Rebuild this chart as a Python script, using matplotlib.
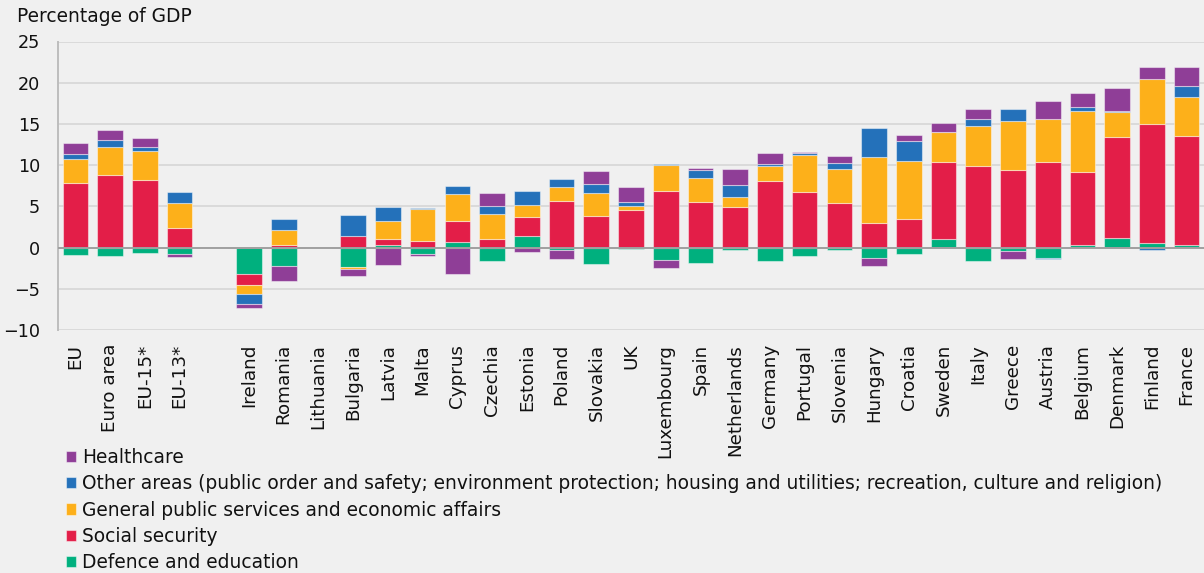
import numpy as np
import matplotlib
matplotlib.use("Agg")
import matplotlib.pyplot as plt

# categories (empty string = gap between aggregates and countries)
countries = ["EU", "Euro area", "EU-15*", "EU-13*", "",
             "Ireland", "Romania", "Lithuania", "Bulgaria", "Latvia", "Malta",
             "Cyprus", "Czechia", "Estonia", "Poland", "Slovakia", "UK",
             "Luxembourg", "Spain", "Netherlands", "Germany", "Portugal",
             "Slovenia", "Hungary", "Croatia", "Sweden", "Italy", "Greece",
             "Austria", "Belgium", "Denmark", "Finland", "France"]

# percentage of GDP
defence = [-0.85, -1.0, -0.6, -0.75, 0,
           -3.25, -2.25, 0, -2.3, 0.28, -0.8,
           0.73, -1.67, 1.46, -0.25, -2.03, -0.12,
           -1.5, -1.83, -0.29, -1.67, -1.06,
           -0.33, -1.22, -0.81, 1.01, -1.67, -0.45,
           -1.3, 0.36, 1.17, 0.55, 0.36]
social = [7.85, 8.75, 8.2, 2.35, 0,
          -1.35, 0.3, 0, 1.45, 0.77, 0.77,
          2.55, 1.05, 2.26, 5.63, 3.84, 4.57,
          6.85, 5.54, 4.94, 8.06, 6.76,
          5.42, 3.04, 3.48, 9.4, 9.92, 9.44,
          10.41, 8.83, 12.24, 14.4, 13.21]
general = [2.9, 3.45, 3.5, 3.0, 0,
           -1.05, 1.8, 0, -0.35, 2.23, 3.9,
           3.2, 3.05, 1.46, 1.7, 2.76, 0.53,
           3.12, 2.92, 1.18, 1.86, 4.43,
           4.06, 7.94, 7.01, 3.57, 4.79, 5.96,
           5.19, 7.34, 3.0, 5.5, 4.67]
other = [0.65, 0.8, 0.45, 1.35, 0,
         -1.15, 1.35, 0, 2.5, 1.62, 0.12,
         1.0, 0.9, 1.67, 0.97, 1.06, 0.37,
         0.2, 0.94, 1.46, 0.2, 0.28,
         0.73, 3.52, 2.4, 0.05, 0.93, 1.42,
         -0.1, 0.57, 0.1, -0.3, 1.41]
health = [1.25, 1.3, 1.1, -0.45, 0,
          -0.55, -1.8, 0, -0.8, -2.15, -0.2,
          -3.25, 1.6, -0.5, -1.17, 1.62, 1.83,
          -1.0, 0.2, 1.9, 1.37, 0.15,
          0.93, -1.02, 0.73, 1.13, 1.18, -0.89,
          2.19, 1.62, 2.82, 1.42, 2.27]

series = [
    ("Defence and education", defence, "#00B07E"),
    ("Social security", social, "#E31E48"),
    ("General public services and economic affairs", general, "#FDB01A"),
    ("Other areas (public order and safety; environment protection; housing and utilities; recreation, culture and religion)", other, "#2471BA"),
    ("Healthcare", health, "#8F3E97"),
]

bg = "#F0F0F0"
plt.rcParams["font.family"] = ["DejaVu Sans"]

fig = plt.figure(figsize=(12.04, 5.73), dpi=100, facecolor=bg)
ax = fig.add_axes([58 / 1204, 1 - 330 / 573, 1 - 58 / 1204, (330 - 41.5) / 573])
ax.set_facecolor(bg)

x = np.arange(len(countries))
pos_bottom = np.zeros(len(countries))
neg_bottom = np.zeros(len(countries))
handles = {}
for name, vals, col in series:
    v = np.array(vals, dtype=float)
    bottom = np.where(v >= 0, pos_bottom, neg_bottom)
    b = ax.bar(x, v, 0.74, bottom=bottom, color=col,
               edgecolor=(1, 1, 1, 0.45), linewidth=0.8, zorder=3)
    handles[name] = b
    pos_bottom += np.where(v >= 0, v, 0)
    neg_bottom += np.where(v < 0, v, 0)

ax.set_xlim(-0.5, len(countries) - 0.5)
ax.set_ylim(-10, 25)
ax.set_yticks(range(-10, 26, 5))
ax.yaxis.grid(True, color="#DADADA", linewidth=1.4, zorder=0)
ax.axhline(0, color="#A0A0A0", linewidth=1.4, zorder=4)
ax.set_xticks(x)
ax.set_xticklabels(countries, rotation=90, va="top", ha="center")
ax.tick_params(axis="x", length=0, pad=10, labelsize=13.2, colors="#111111")
ax.tick_params(axis="y", length=0, pad=13, labelsize=12.7, colors="#111111")
for s in ["top", "right", "bottom"]:
    ax.spines[s].set_visible(False)
ax.spines["left"].set_color("#BDBDBD")
ax.spines["left"].set_linewidth(1.4)

fig.text(17 / 1204, 1 - 16 / 573, "Percentage of GDP", fontsize=13.4,
         va="center", ha="left", color="#111111")

order = [s[0] for s in series][::-1]
leg = fig.legend([handles[n] for n in order], order, loc="upper left",
                 bbox_to_anchor=(66 / 1204, 1 - 448 / 573), frameon=False,
                 fontsize=13.4, handlelength=0.55, handleheight=0.55,
                 handletextpad=0.3, labelspacing=0.39, borderaxespad=0,
                 borderpad=0)
for t in leg.get_texts():
    t.set_color("#111111")

fig.savefig("out.png", dpi=100, facecolor=bg)
